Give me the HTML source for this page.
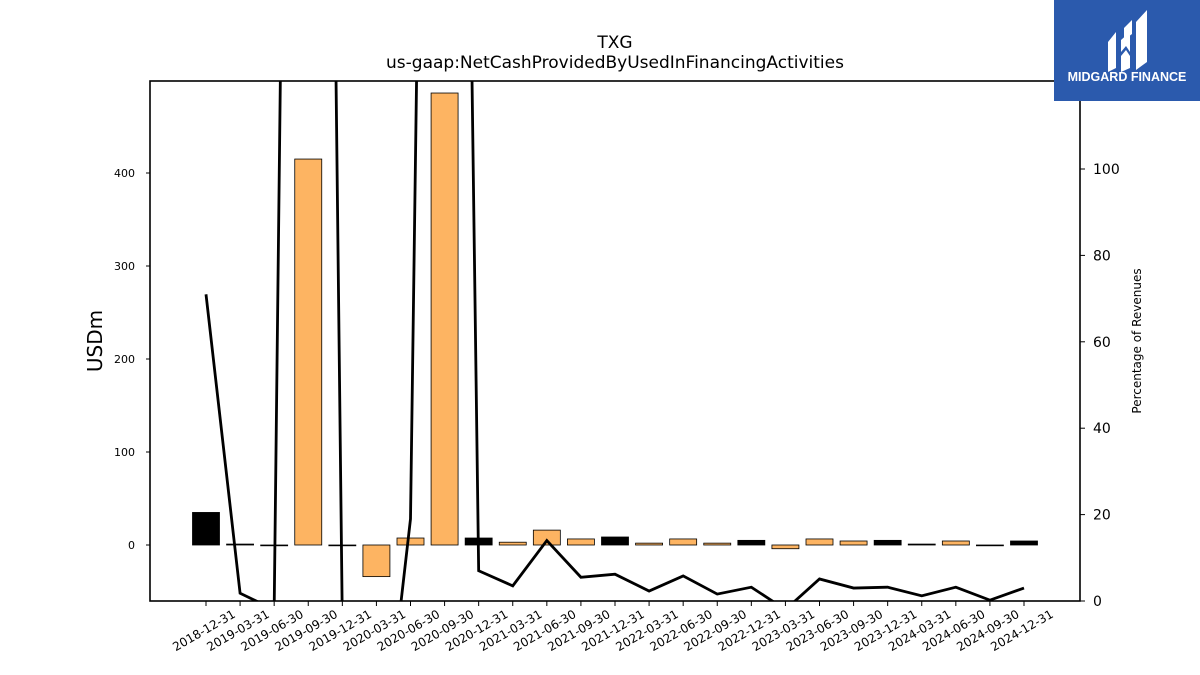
<!DOCTYPE html>
<html><head><meta charset="utf-8"><style>
html,body{margin:0;background:#fff;width:1200px;height:675px;overflow:hidden;font-family:"Liberation Sans","DejaVu Sans",sans-serif}
svg{display:block;overflow:hidden}
</style></head><body>
<svg id="chart" width="1200" height="675" xmlns="http://www.w3.org/2000/svg">
<text x="615" y="48" text-anchor="middle" font-size="17" font-family="DejaVu Sans, sans-serif">TXG</text>
<text x="615" y="68" text-anchor="middle" font-size="17" font-family="DejaVu Sans, sans-serif">us-gaap:NetCashProvidedByUsedInFinancingActivities</text>
<g id="bars"></g>
<g id="line"></g>
<rect x="150" y="81" width="930" height="520" fill="none" stroke="#000" stroke-width="1.6"/>
<g id="axes" font-family="DejaVu Sans, sans-serif"></g>
<text transform="translate(102,341) rotate(-90)" text-anchor="middle" font-size="20" font-family="DejaVu Sans, sans-serif">USDm</text>
<text transform="translate(1141,341) rotate(-90)" text-anchor="middle" font-size="12" font-family="DejaVu Sans, sans-serif">Percentage of Revenues</text>
<g>
<rect x="1054" y="0" width="146" height="101" fill="#2b5aad"/>
<path d="M1108 42 L1116 32 L1116 68 L1108 72 Z M1121 40 L1130 32 L1130 52 L1126 46 L1121 52 Z M1121 56 L1126 50 L1130 56 L1130 68 L1121 72 Z M1136 22 L1147 10 L1147 62 L1136 70 Z M1124 28 L1132 20 L1132 34 L1124 40 Z" fill="#fff"/>
<text x="1127" y="81" text-anchor="middle" font-size="12.5" font-weight="bold" fill="#fff">MIDGARD FINANCE</text>
</g>
</svg>
<script>
const categories=["2018-12-31","2019-03-31","2019-06-30","2019-09-30","2019-12-31","2020-03-31","2020-06-30","2020-09-30","2020-12-31","2021-03-31","2021-06-30","2021-09-30","2021-12-31","2022-03-31","2022-06-30","2022-09-30","2022-12-31","2023-03-31","2023-06-30","2023-09-30","2023-12-31","2024-03-31","2024-06-30","2024-09-30","2024-12-31"];
const barValues=[35,1,-0.5,415,-0.5,-34,7.5,486,7.5,3,16,6.5,8.6,2,6.5,2,5,-4,6.5,4.3,5,1,4.3,-0.3,4.3];
const barIsBlack=[1,1,1,0,1,0,0,0,1,0,0,0,1,0,0,0,1,0,0,0,1,1,0,1,1];
const pctValues=[71,1.8,-2,675,-5,-50,19,590,7,3.5,14,5.5,6.2,2.3,5.8,1.6,3.2,-2,5.1,3,3.2,1.2,3.2,0.2,3];
const leftTicks=[0,100,200,300,400];
const rightTicks=[0,20,40,60,80,100];
const NS="http://www.w3.org/2000/svg";
const X0=150,X1=1080,Y0=81,Y1=601;
const yL=v=>545-v*0.93;
const yR=v=>601-v*4.32;
const xC=i=>206+i*(1024-206)/(categories.length-1);
function mk(tag,attrs,parent){const e=document.createElementNS(NS,tag);for(const k in attrs)e.setAttribute(k,attrs[k]);parent.appendChild(e);return e;}
const defs=mk('defs',{},document.getElementById('chart'));
const cp=mk('clipPath',{id:'clip'},defs);mk('rect',{x:X0,y:Y0,width:X1-X0,height:Y1-Y0},cp);
const bars=document.getElementById('bars');bars.setAttribute('clip-path','url(#clip)');
barValues.forEach((v,i)=>{
 const y=Math.min(yL(v),yL(0)),h=Math.max(Math.abs(yL(v)-yL(0)),0.8);
 const r=mk('rect',{x:xC(i)-13.5,y:y,width:27,height:h,fill:barIsBlack[i]?'#000':'#fdb462',stroke:'#000','stroke-width':0.8},bars);
 
 
});
const lg=document.getElementById('line');lg.setAttribute('clip-path','url(#clip)');
const p=mk('polyline',{points:pctValues.map((v,i)=>xC(i)+','+yR(v)).join(' '),fill:'none',stroke:'#000','stroke-width':2.8,'stroke-linejoin':'miter'},lg);


const ax=document.getElementById('axes');
leftTicks.forEach(t=>{
 mk('line',{x1:X0-4,x2:X0,y1:yL(t),y2:yL(t),stroke:'#000'},ax);
 const tx=mk('text',{x:X0-15,y:yL(t)+4,'text-anchor':'end','font-size':11},ax);tx.textContent=t;
 
 
});
rightTicks.forEach(t=>{
 mk('line',{x1:X1,x2:X1+5,y1:yR(t),y2:yR(t),stroke:'#000'},ax);
 const tx=mk('text',{x:X1+13,y:yR(t)+5,'font-size':14},ax);tx.textContent=t;
 
 
});
categories.forEach((c,i)=>{
 mk('line',{x1:xC(i),x2:xC(i),y1:Y1,y2:Y1+5,stroke:'#000'},ax);
 const tx=mk('text',{transform:`translate(${xC(i)},${Y1+33}) rotate(-30)`,'text-anchor':'middle','font-size':12},ax);tx.textContent=c;
 
 
});
</script>
</body></html>
